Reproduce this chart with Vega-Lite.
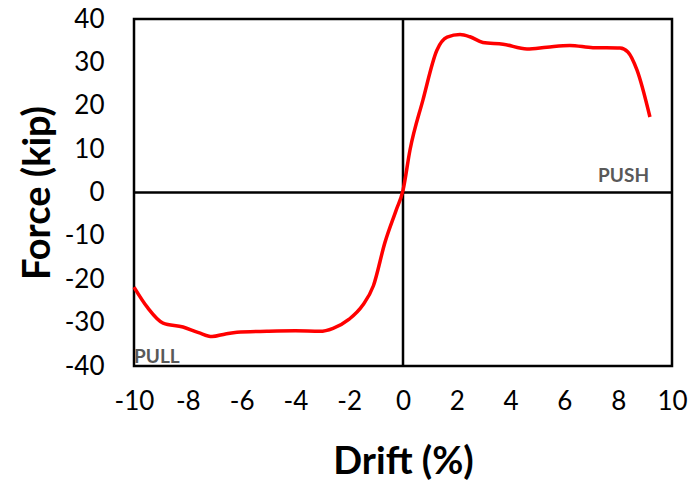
{
  "$schema": "https://vega.github.io/schema/vega-lite/v6.json",
  "width": 538,
  "height": 347,
  "autosize": "none",
  "padding": {"left": 134, "top": 19, "right": 17, "bottom": 119},
  "background": "white",
  "config": {
    "view": {"stroke": "black", "strokeWidth": 2.5},
    "font": "Lato",
    "axis": {"grid": false, "domain": false, "ticks": false, "labelFont": "Lato", "labelColor": "black", "labelFontSize": 26, "titleFont": "Lato", "titleFontSize": 38, "titleFontWeight": "bold", "titleColor": "black"}
  },
  "datasets": {
    "curve": [
      {"drift": -10.0, "force": -21.8},
      {"drift": -9.5, "force": -26.5},
      {"drift": -8.92, "force": -30.1},
      {"drift": -8.18, "force": -31.0},
      {"drift": -7.6, "force": -32.3},
      {"drift": -7.1, "force": -33.2},
      {"drift": -6.6, "force": -32.6},
      {"drift": -6.17, "force": -32.2},
      {"drift": -5.06, "force": -32.0},
      {"drift": -4.0, "force": -31.9},
      {"drift": -3.09, "force": -32.0},
      {"drift": -2.6, "force": -31.3},
      {"drift": -2.0, "force": -29.2},
      {"drift": -1.5, "force": -26.0},
      {"drift": -1.1, "force": -21.5},
      {"drift": -0.67, "force": -11.5},
      {"drift": -0.25, "force": -4.0},
      {"drift": 0.0, "force": 0.5},
      {"drift": 0.26, "force": 9.8},
      {"drift": 0.74, "force": 21.3},
      {"drift": 1.26, "force": 32.8},
      {"drift": 1.64, "force": 35.8},
      {"drift": 2.12, "force": 36.4},
      {"drift": 2.49, "force": 35.9},
      {"drift": 2.97, "force": 34.6},
      {"drift": 3.72, "force": 34.2},
      {"drift": 4.61, "force": 33.1},
      {"drift": 5.35, "force": 33.5},
      {"drift": 6.2, "force": 33.9},
      {"drift": 7.06, "force": 33.4},
      {"drift": 8.07, "force": 33.3},
      {"drift": 8.36, "force": 32.4},
      {"drift": 8.7, "force": 28.2},
      {"drift": 9.18, "force": 17.4}
    ],
    "labels": [
      {"drift": 8.2, "force": 2.5, "label": "PUSH"},
      {"drift": -9.15, "force": -39.4, "label": "PULL"}
    ],
    "zero": [{"v": 0}]
  },
  "layer": [
    {
      "data": {"name": "zero"},
      "mark": {"type": "rule", "color": "black", "strokeWidth": 2.5},
      "encoding": {"x": {"field": "v", "type": "quantitative", "scale": {"domain": [-10, 10]}}}
    },
    {
      "data": {"name": "zero"},
      "mark": {"type": "rule", "color": "black", "strokeWidth": 2.5},
      "encoding": {"y": {"field": "v", "type": "quantitative", "scale": {"domain": [-40, 40]}}}
    },
    {
      "data": {"name": "curve"},
      "mark": {"type": "line", "color": "#FF0000", "strokeWidth": 3.5, "interpolate": "monotone"},
      "encoding": {
        "x": {"field": "drift", "type": "quantitative", "scale": {"domain": [-10, 10], "nice": false, "zero": false}, "axis": {"title": "Drift (%)", "values": [-10, -8, -6, -4, -2, 0, 2, 4, 6, 8, 10], "labelExpr": "'' + datum.value", "labelPadding": 22, "titleY": 96, "titleBaseline": "middle", "labelFlush": false}},
        "y": {"field": "force", "type": "quantitative", "scale": {"domain": [-40, 40], "nice": false}, "axis": {"title": "Force (kip)", "values": [-40, -30, -20, -10, 0, 10, 20, 30, 40], "labelExpr": "'' + datum.value", "labelPadding": 30, "titleX": -96, "titleY": 173.5, "titleAlign": "center", "titleBaseline": "middle", "labelFlush": false}}
      }
    },
    {
      "data": {"name": "labels"},
      "mark": {"type": "text", "font": "Lato", "fontSize": 19, "fontWeight": "bold", "color": "#595959", "align": "center", "baseline": "alphabetic"},
      "encoding": {
        "x": {"field": "drift", "type": "quantitative"},
        "y": {"field": "force", "type": "quantitative"},
        "text": {"field": "label"}
      }
    }
  ]
}
